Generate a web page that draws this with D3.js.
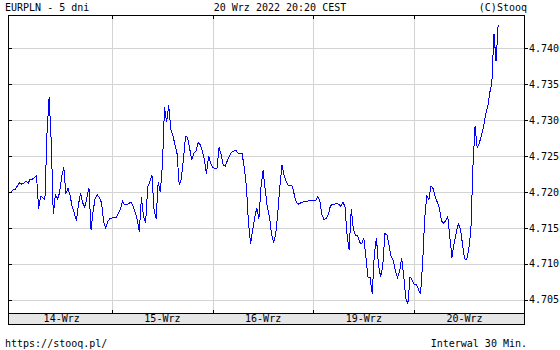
<!DOCTYPE html>
<html>
<head>
<meta charset="utf-8">
<script src="https://cdn.jsdelivr.net/npm/d3@7"></script>
<style>
  body { margin: 0; background: #fff; }
  text { font-family: "DejaVu Sans Mono", monospace; font-size: 10px; fill: #000; }
</style>
</head>
<body>
<script>
// day labels on the bottom band
let days = ["14-Wrz", "15-Wrz", "16-Wrz", "19-Wrz", "20-Wrz"];

// 30 minute closes, one array per day
let d14 = [4.7200, 4.7204, 4.7204, 4.7209, 4.7213, 4.7211, 4.7212, 4.7215, 4.7212, 4.7218,
           4.7218, 4.7220, 4.7223, 4.7177, 4.7194, 4.7192, 4.7189, 4.7281, 4.7332, 4.7272,
           4.7169, 4.7196, 4.7190, 4.7199, 4.7221, 4.7234, 4.7198, 4.7205, 4.7195, 4.7180,
           4.7171, 4.7160, 4.7183, 4.7198, 4.7185, 4.7179, 4.7192, 4.7206, 4.7147, 4.7174,
           4.7192, 4.7196, 4.7192, 4.7185, 4.7158, 4.7150, 4.7159, 4.7163];
let d15 = [4.7164, 4.7164, 4.7164, 4.7170, 4.7176, 4.7187, 4.7182, 4.7182, 4.7184, 4.7186,
           4.7181, 4.7172, 4.7162, 4.7145, 4.7193, 4.7166, 4.7157, 4.7207, 4.7214, 4.7224,
           4.7176, 4.7163, 4.7214, 4.7200, 4.7237, 4.7318, 4.7297, 4.7321, 4.7287, 4.7278,
           4.7266, 4.7253, 4.7210, 4.7218, 4.7245, 4.7277, 4.7276, 4.7260, 4.7245, 4.7254,
           4.7257, 4.7269, 4.7266, 4.7257, 4.7245, 4.7225, 4.7250, 4.7240];
let d16 = [4.7234, 4.7233, 4.7233, 4.7262, 4.7252, 4.7237, 4.7236, 4.7244, 4.7251, 4.7255,
           4.7257, 4.7258, 4.7254, 4.7253, 4.7253, 4.7234, 4.7209, 4.7158, 4.7128, 4.7147,
           4.7165, 4.7178, 4.7163, 4.7208, 4.7230, 4.7203, 4.7179, 4.7166, 4.7142, 4.7129,
           4.7142, 4.7171, 4.7209, 4.7238, 4.7223, 4.7214, 4.7209, 4.7209, 4.7208, 4.7194,
           4.7185, 4.7183, 4.7185, 4.7186, 4.7187, 4.7187, 4.7188, 4.7188];
let d19 = [4.7188, 4.7188, 4.7194, 4.7188, 4.7169, 4.7162, 4.7163, 4.7168, 4.7180, 4.7183,
           4.7183, 4.7184, 4.7183, 4.7180, 4.7186, 4.7180, 4.7140, 4.7120, 4.7176, 4.7149,
           4.7140, 4.7140, 4.7130, 4.7128, 4.7136, 4.7109, 4.7081, 4.7081, 4.7058, 4.7114,
           4.7136, 4.7098, 4.7082, 4.7096, 4.7142, 4.7141, 4.7126, 4.7110, 4.7105, 4.7091,
           4.7081, 4.7089, 4.7108, 4.7084, 4.7052, 4.7045, 4.7082, 4.7078];
let d20 = [4.7071, 4.7071, 4.7065, 4.7058, 4.7100, 4.7164, 4.7194, 4.7190, 4.7208, 4.7205,
           4.7193, 4.7186, 4.7177, 4.7160, 4.7157, 4.7160, 4.7166, 4.7137, 4.7109, 4.7129,
           4.7143, 4.7156, 4.7149, 4.7128, 4.7107, 4.7106, 4.7121, 4.7147, 4.7236, 4.7292,
           4.7262, 4.7268, 4.7278, 4.7290, 4.7308, 4.7318, 4.7338, 4.7352, 4.7420, 4.7382,
           4.7432];

// price ticks on the right
let yTicks = [4.705, 4.710, 4.715, 4.720, 4.725, 4.730, 4.735, 4.740];

// plot box inside the 560x350 picture
let margin = {top: 16, right: 36, bottom: 26, left: 8};
let W = 560, H = 350;
let bandH = 11;
let boxL = margin.left, boxR = W - margin.right;
let boxT = margin.top, boxB = H - margin.bottom;   // bottom of the date band
let plotB = boxB - bandH;

// flatten the days into {t, v}, t counted in days, 48 slots per day
let data = [];
[d14, d15, d16, d19, d20].forEach(function(arr, di) {
  arr.forEach(function(v, i) { data.push({t: di + i / 48, v: v}); });
});

let x = d3.scaleLinear().domain([-0.033, 5.09]).range([boxL, boxR]);
let y = d3.scaleLinear().domain([4.70319, 4.74446]).range([plotB, boxT]);

let px = function(v) { return Math.round(v) + 0.5; };

let svg = d3.select("body").append("svg")
  .attr("width", W)
  .attr("height", H);

svg.append("rect").attr("width", W).attr("height", H).attr("fill", "#fff");

// horizontal grid
svg.append("g").selectAll("line")
  .data(yTicks)
  .enter().append("line")
    .attr("x1", boxL).attr("x2", boxR)
    .attr("y1", function(d) { return px(y(d)); })
    .attr("y2", function(d) { return px(y(d)); })
    .attr("stroke", "#d3d3d3");

// vertical grid at day boundaries
let dayEdges = [1, 2, 3, 4];
svg.append("g").selectAll("line")
  .data(dayEdges)
  .enter().append("line")
    .attr("x1", function(d) { return px(x(d)); })
    .attr("x2", function(d) { return px(x(d)); })
    .attr("y1", boxT).attr("y2", plotB)
    .attr("stroke", "#d3d3d3");

// date band
svg.append("rect")
  .attr("x", boxL + 0.5).attr("y", plotB + 0.5)
  .attr("width", boxR - boxL).attr("height", bandH)
  .attr("fill", "#e6e6e6")
  .attr("stroke", "#000");

// the price line
let valueline = d3.line()
  .x(function(d) { return x(d.t); })
  .y(function(d) { return y(d.v); });

svg.append("path")
  .datum(data)
  .attr("d", valueline)
  .attr("fill", "none")
  .attr("stroke", "#0000ff")
  .attr("stroke-width", 1)
  .attr("shape-rendering", "crispEdges");

// frame
svg.append("rect")
  .attr("x", boxL + 0.5).attr("y", boxT - 0.5)
  .attr("width", boxR - boxL).attr("height", boxB - boxT + 1)
  .attr("fill", "none")
  .attr("stroke", "#000");

// small black ticks
let ticks = svg.append("g").attr("stroke", "#000");
yTicks.forEach(function(d) {
  let yy = px(y(d));
  ticks.append("line").attr("x1", boxL).attr("x2", boxL + 4).attr("y1", yy).attr("y2", yy);
  ticks.append("line").attr("x1", boxR).attr("x2", boxR + 4).attr("y1", yy).attr("y2", yy);
});
dayEdges.forEach(function(d) {
  let xx = px(x(d));
  ticks.append("line").attr("x1", xx).attr("x2", xx).attr("y1", boxT).attr("y2", boxT + 3);
  ticks.append("line").attr("x1", xx).attr("x2", xx).attr("y1", plotB - 3).attr("y2", plotB);
});

// price labels
svg.append("g").selectAll("text")
  .data(yTicks)
  .enter().append("text")
    .attr("x", boxR + 5)
    .attr("y", function(d) { return y(d); })
    .attr("dy", "0.35em")
    .text(function(d) { return d3.format(".3f")(d); });

// day labels
svg.append("g").selectAll("text")
  .data(days)
  .enter().append("text")
    .attr("x", function(d, i) { return x(i + 0.5); })
    .attr("y", boxB - 2)
    .attr("text-anchor", "middle")
    .text(function(d) { return d; });

// header and footer
svg.append("text").attr("x", 5).attr("y", 11).text("EURPLN - 5 dni");
svg.append("text").attr("x", 280).attr("y", 11).attr("text-anchor", "middle").text("20 Wrz 2022 20:20 CEST");
svg.append("text").attr("x", boxR + 3).attr("y", 11).attr("text-anchor", "end").text("(C)Stooq");
svg.append("text").attr("x", 5).attr("y", 347).text("https://stooq.pl/");
svg.append("text").attr("x", boxR + 3).attr("y", 347).attr("text-anchor", "end").text("Interwal 30 Min.");
</script>
</body>
</html>
